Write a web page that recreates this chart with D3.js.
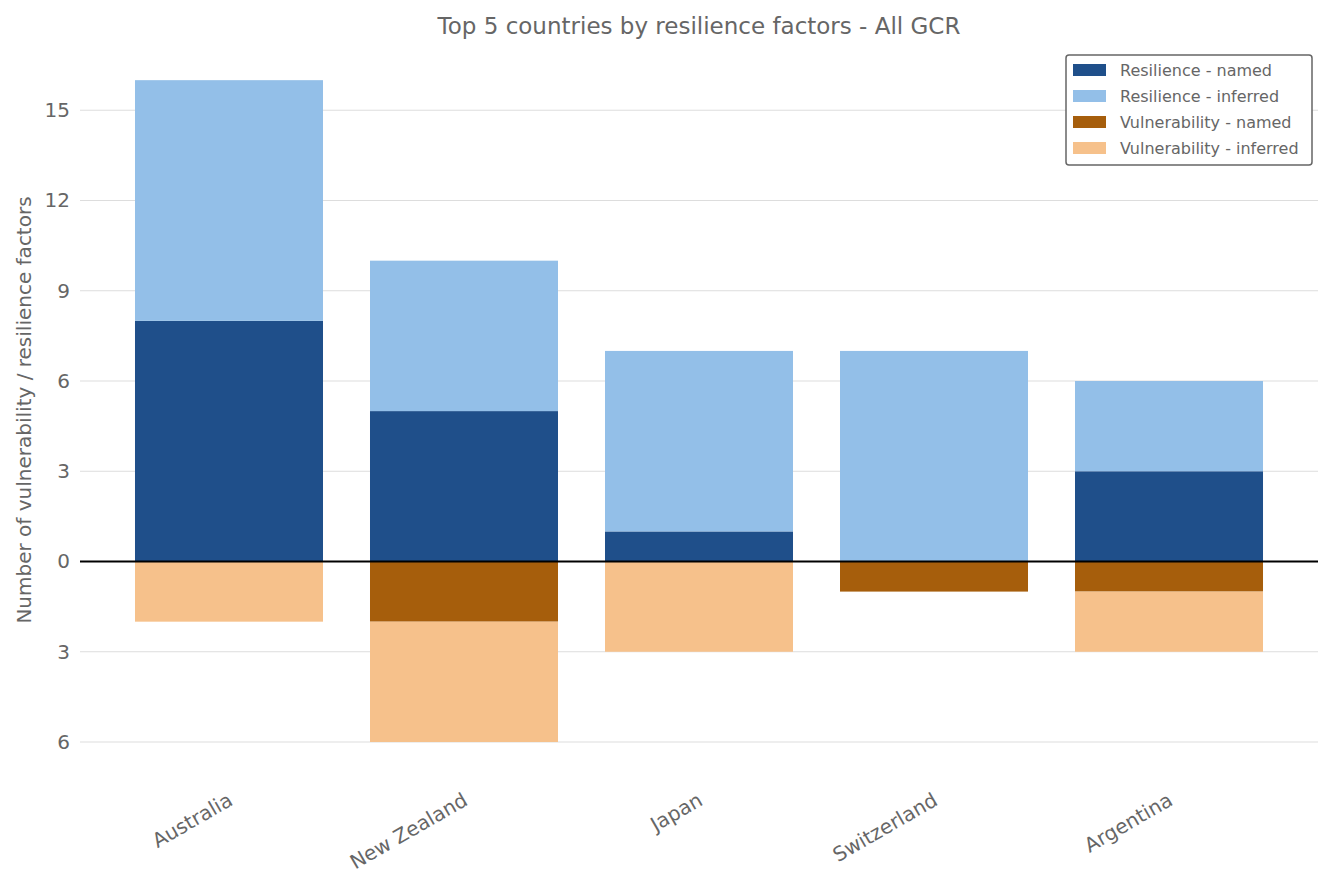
<!DOCTYPE html>
<html><head><meta charset="utf-8">
<script src="https://cdn.jsdelivr.net/npm/d3@7"></script>
<style>body{margin:0;background:#fff;font-family:"DejaVu Sans",sans-serif;}</style>
</head><body><div id="chart"></div>
<script>
const countries = ["Australia", "New Zealand", "Japan", "Switzerland", "Argentina"];
const resNamed = [8, 5, 1, 0, 3];
const resInferred = [8, 5, 6, 7, 3];
const vulNamed = [0, 2, 0, 1, 1];
const vulInferred = [2, 4, 3, 0, 2];
const yTicks = [-6, -3, 0, 3, 6, 9, 12, 15];
const series = [
  {name: "Resilience - named", color: "#1f4f8a"},
  {name: "Resilience - inferred", color: "#93bfe8"},
  {name: "Vulnerability - named", color: "#a65e0c"},
  {name: "Vulnerability - inferred", color: "#f6c18b"}
];

const width = 1335, height = 885;
const mLeft = 80, mRight = 1318, mTop = 57, mBottom = 773;
const grey = "#666";

const svg = d3.select("#chart").append("svg").attr("width", width).attr("height", height);
const x = d3.scaleLinear().domain([-0.634, 4.634]).range([mLeft, mRight]);
const y = d3.scaleLinear().domain([-7.03, 16.77]).range([mBottom, mTop]);
const bw = 0.8;

// grid
svg.append("g").selectAll("line").data(yTicks.filter(t => t !== 0)).enter().append("line")
  .attr("x1", mLeft).attr("x2", mRight).attr("y1", d => y(d)).attr("y2", d => y(d))
  .attr("stroke", "#ddd").attr("stroke-width", 1);

// bars
const rects = [];
countries.forEach((c, i) => {
  rects.push({i, y0: 0, y1: resNamed[i], color: series[0].color});
  rects.push({i, y0: resNamed[i], y1: resNamed[i] + resInferred[i], color: series[1].color});
  rects.push({i, y0: 0, y1: -vulNamed[i], color: series[2].color});
  rects.push({i, y0: -vulNamed[i], y1: -vulNamed[i] - vulInferred[i], color: series[3].color});
});
svg.append("g").selectAll("rect").data(rects.filter(r => r.y0 !== r.y1)).enter().append("rect")
  .attr("x", d => x(d.i - bw / 2)).attr("width", x(bw) - x(0))
  .attr("y", d => y(Math.max(d.y0, d.y1))).attr("height", d => Math.abs(y(d.y0) - y(d.y1)))
  .attr("fill", d => d.color);

svg.append("line").attr("x1", mLeft).attr("x2", mRight).attr("y1", y(0)).attr("y2", y(0))
  .attr("stroke", "#000").attr("stroke-width", 1.8);

// y axis
const ya = svg.append("g").attr("transform", `translate(${mLeft},0)`)
  .call(d3.axisLeft(y).tickValues(yTicks).tickFormat(d => Math.abs(d)).tickSize(0).tickPadding(10));
ya.select(".domain").remove();
ya.selectAll("text").attr("fill", grey).style("font-size", "20px").style("font-family", "DejaVu Sans");

// x labels
svg.append("g").selectAll("text").data(countries).enter().append("text")
  .attr("transform", (d, i) => `translate(${x(i) - 2},${792}) rotate(-30)`)
  .attr("text-anchor", "end").attr("dy", "0.7em")
  .attr("fill", grey).style("font-size", "20px").text(d => d);

svg.append("text").attr("x", (mLeft + mRight) / 2 - 0).attr("y", 34).attr("text-anchor", "middle")
  .attr("fill", grey).style("font-size", "23px").text("Top 5 countries by resilience factors - All GCR");

svg.append("text").attr("transform", `translate(31,${(mTop + mBottom) / 2 - 5}) rotate(-90)`)
  .attr("text-anchor", "middle").attr("fill", grey).style("font-size", "20px")
  .text("Number of vulnerability / resilience factors");

// legend
const lg = svg.append("g").attr("transform", "translate(1066,55)");
lg.append("rect").attr("width", 246).attr("height", 110).attr("rx", 3)
  .attr("fill", "#fff").attr("stroke", "#666").attr("stroke-width", 1.5);
series.forEach((s, k) => {
  lg.append("rect").attr("x", 7).attr("y", 9 + k * 26).attr("width", 33).attr("height", 12).attr("fill", s.color);
  lg.append("text").attr("x", 54).attr("y", 21 + k * 26).attr("fill", grey)
    .style("font-size", "16px").text(s.name);
});
</script></body></html>
